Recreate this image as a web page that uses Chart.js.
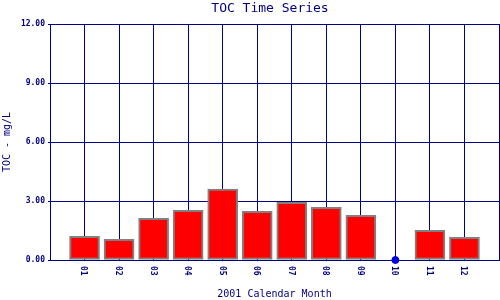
<!DOCTYPE html>
<html>
<head>
<meta charset="utf-8">
<script src="https://cdn.jsdelivr.net/npm/chart.js@4/dist/chart.umd.min.js"></script>
<style>
  html, body { margin: 0; padding: 0; background: #ffffff; }
  #wrap { width: 500px; height: 300px; }
</style>
</head>
<body>
<div id="wrap"><canvas id="c" width="500" height="300"></canvas></div>
<script>
// ---- data ----
const months = ['01', '02', '03', '04', '05', '06', '07', '08', '09', '10', '11', '12'];
const tocValues = [1.20, 1.05, 2.12, 2.53, 3.60, 2.48, 2.93, 2.68, 2.27, 0, 1.51, 1.15];
const yTicks = [0, 3, 6, 9, 12];
const chartTitle = 'TOC Time Series';
const xTitle = '2001 Calendar Month';
const yTitle = 'TOC - mg/L';

const NAVY = '#000080';
const MONO = '"DejaVu Sans Mono", "Liberation Mono", monospace';

const barData = months.map((m, i) => ({ x: i + 1, y: tocValues[i] > 0 ? tocValues[i] : null }));
const zeroData = months.map((m, i) => ({ x: i + 1, y: tocValues[i] })).filter(p => p.y === 0);

const textPlugin = {
  id: 'textPlugin',
  afterDraw(chart) {
    const ctx = chart.ctx;
    const xs = chart.scales.x;
    const ca = chart.chartArea;
    ctx.save();
    // right border of plot area
    ctx.strokeStyle = NAVY;
    ctx.lineWidth = 1;
    ctx.beginPath();
    ctx.moveTo(Math.round(ca.right) + 0.5, ca.top);
    ctx.lineTo(Math.round(ca.right) + 0.5, ca.bottom);
    ctx.stroke();
    ctx.fillStyle = NAVY;
    // title
    ctx.font = 'normal 13px ' + MONO;
    ctx.textAlign = 'center';
    ctx.textBaseline = 'middle';
    ctx.fillText(chartTitle, 270, 8.5);
    // rotated month labels (reading top-to-bottom)
    ctx.font = 'bold 8px ' + MONO;
    months.forEach((m, i) => {
      const px = xs.getPixelForValue(i + 1);
      ctx.save();
      ctx.translate(px - 1, ca.bottom + 6);
      ctx.rotate(Math.PI / 2);
      ctx.textAlign = 'left';
      ctx.textBaseline = 'middle';
      ctx.fillText(m, 0, 0);
      ctx.restore();
    });
    ctx.restore();
  }
};

new Chart(document.getElementById('c'), {
  type: 'bar',
  data: {
    datasets: [
      {
        type: 'scatter',
        data: zeroData,
        backgroundColor: '#0000dd',
        borderColor: '#0000dd',
        pointRadius: 3.5,
        pointHoverRadius: 3.5,
        clip: false
      },
      {
        type: 'bar',
        data: barData,
        backgroundColor: '#ff0000',
        borderColor: '#808080',
        borderWidth: 2,
        borderSkipped: false,
        barThickness: 30
      }
    ]
  },
  options: {
    responsive: false,
    animation: false,
    layout: { autoPadding: false, padding: { left: 0, right: 1, top: 24, bottom: 0 } },
    plugins: {
      legend: { display: false },
      tooltip: { enabled: false },
      title: { display: false }
    },
    scales: {
      x: {
        type: 'linear',
        min: 0,
        max: 13,
        offset: false,
        grid: { color: NAVY, lineWidth: 1, drawTicks: false, offset: false },
        border: { color: NAVY, width: 1 },
        ticks: { display: false, stepSize: 1 },
        title: {
          display: true,
          text: xTitle,
          color: NAVY,
          font: { family: MONO, size: 10, lineHeight: 1.2 },
          padding: { top: 0, bottom: 0 }
        },
        afterFit(scale) { scale.height = 40; }
      },
      y: {
        type: 'linear',
        min: 0,
        max: 12,
        afterBuildTicks(scale) { scale.ticks = yTicks.map(v => ({ value: v })); },
        grid: { color: NAVY, lineWidth: 1, tickLength: 2 },
        border: { color: NAVY, width: 1 },
        ticks: {
          color: NAVY,
          padding: 3,
          font: { family: MONO, size: 8, weight: 'bold' },
          callback: v => Number(v).toFixed(2)
        },
        title: {
          display: true,
          text: yTitle,
          color: NAVY,
          font: { family: MONO, size: 10, lineHeight: 1.2 },
          padding: { top: 1, bottom: 0 }
        },
        afterFit(scale) { scale.width = 50; }
      }
    }
  },
  plugins: [textPlugin]
});
</script>
</body>
</html>
